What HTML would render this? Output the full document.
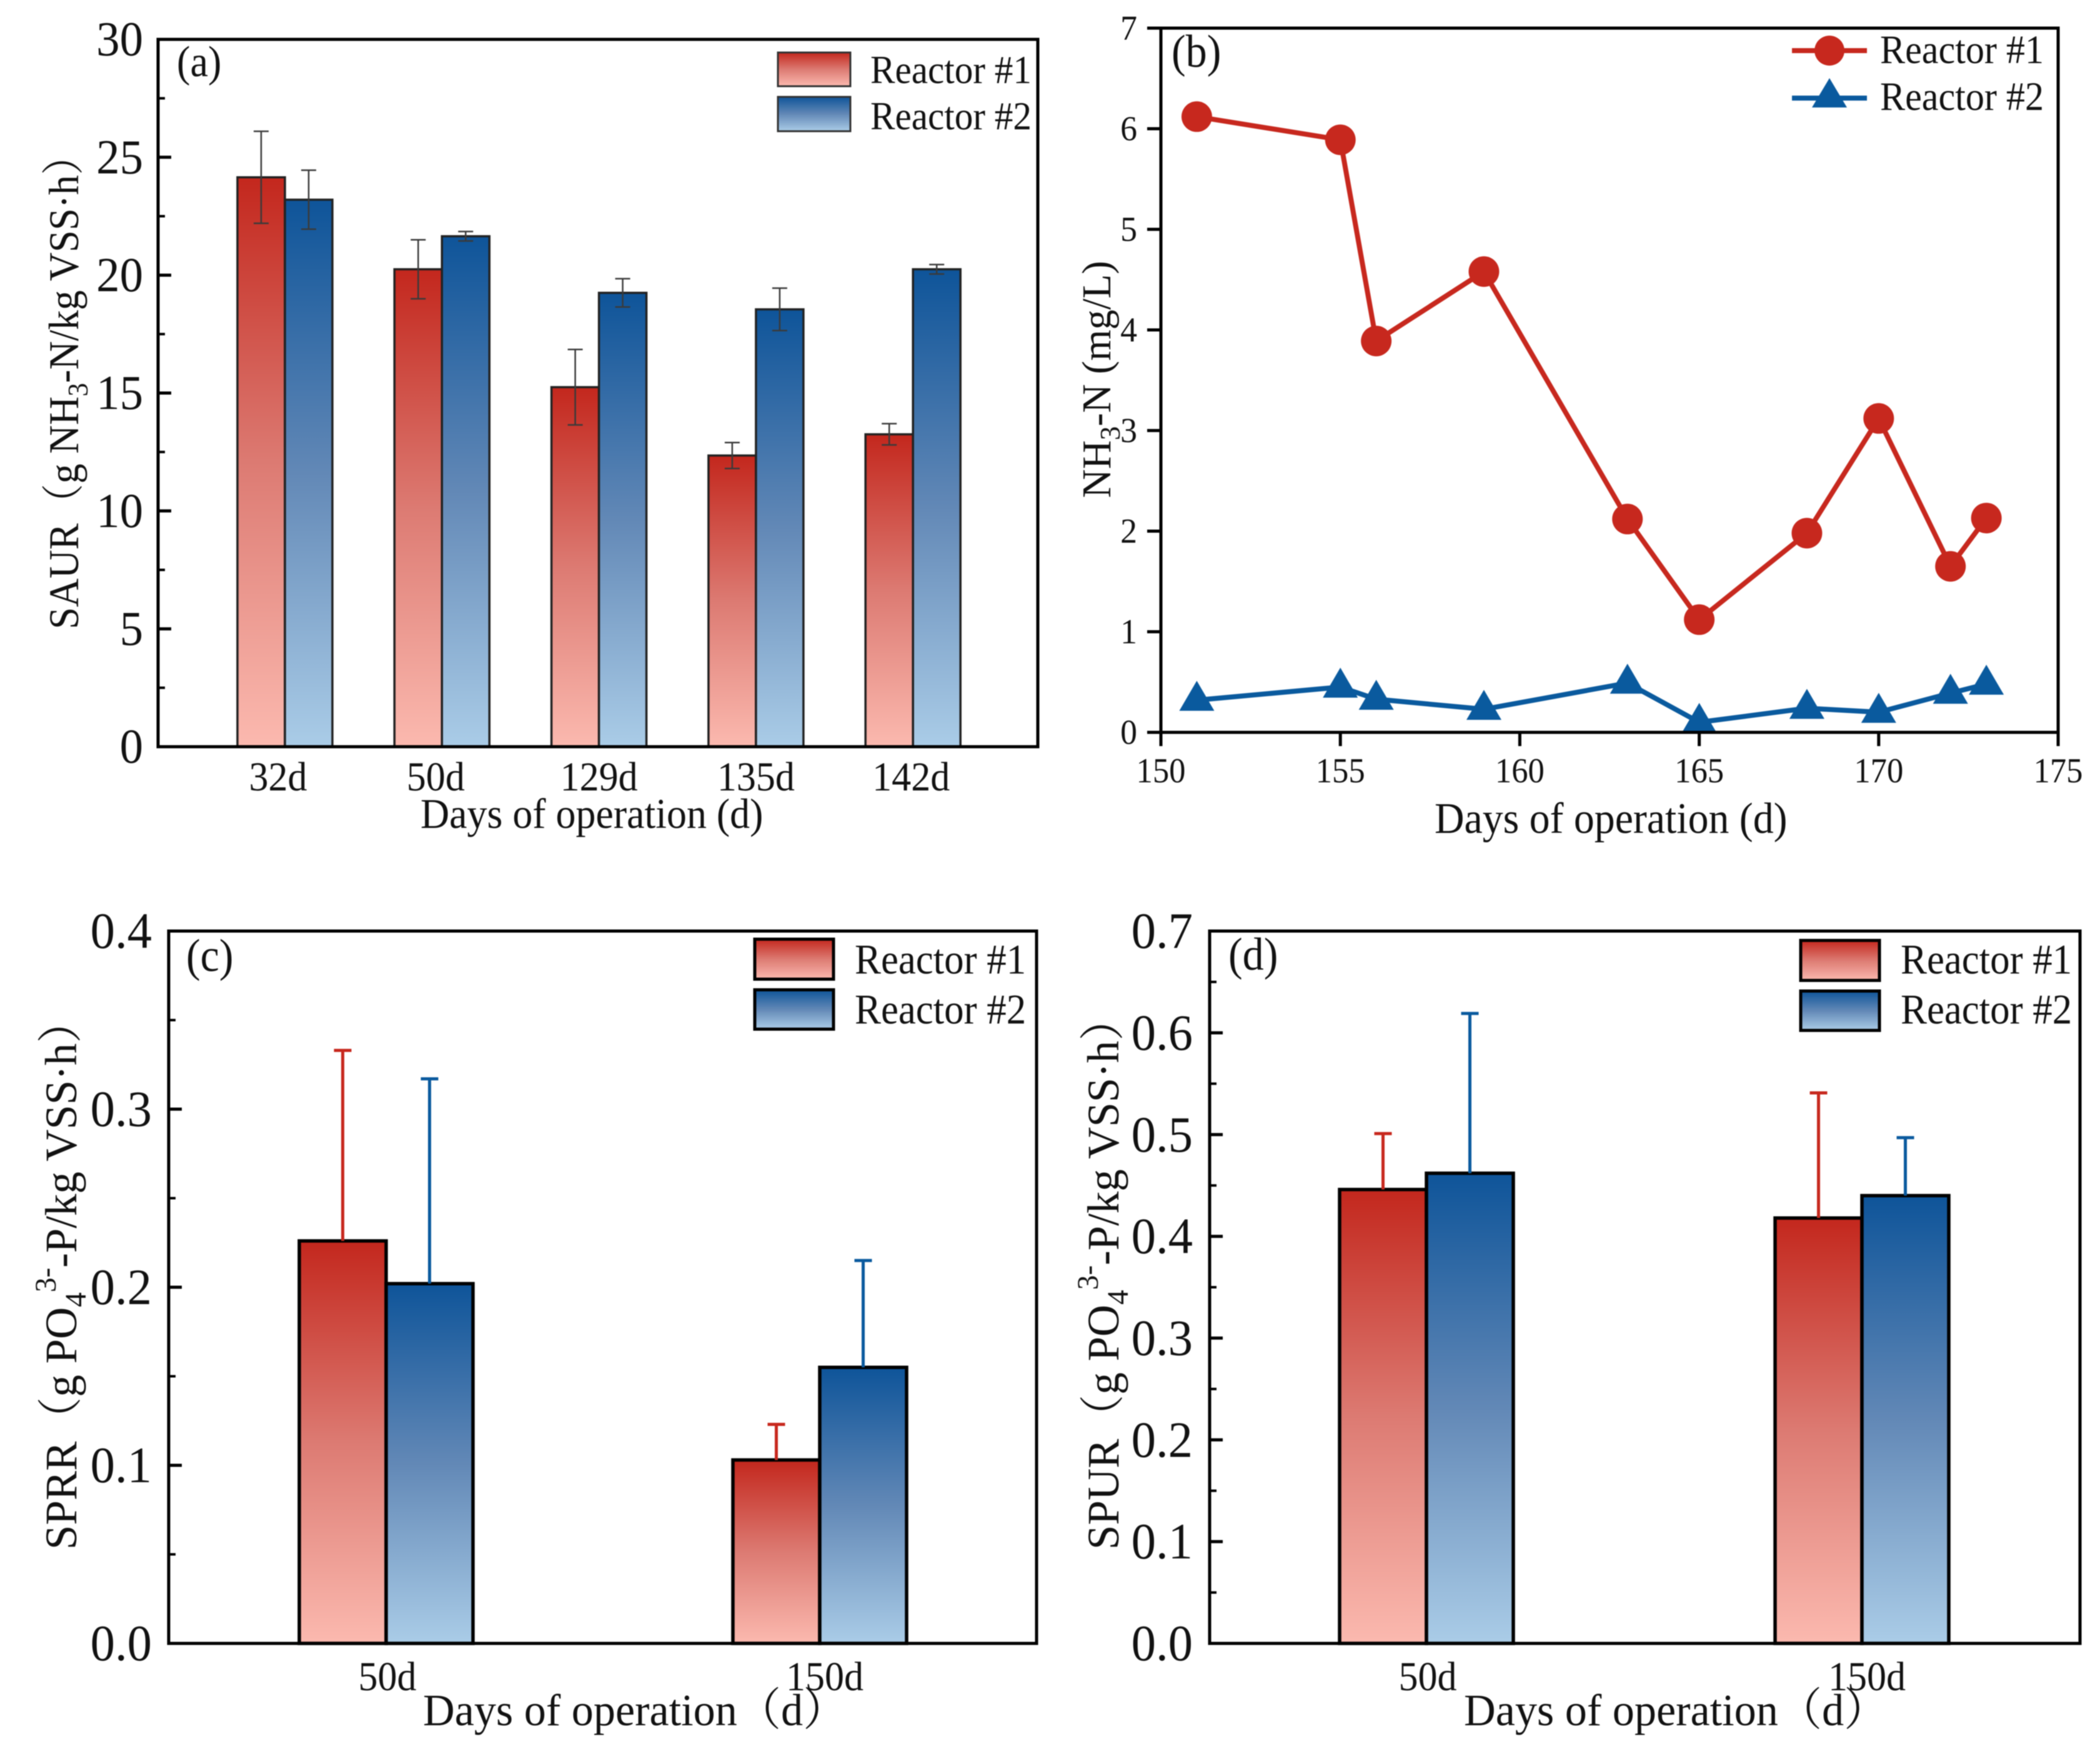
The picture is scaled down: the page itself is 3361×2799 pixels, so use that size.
<!DOCTYPE html>
<html lang="en">
<head>
<meta charset="utf-8">
<title>Reactor performance charts</title>
<style>
html,body{margin:0;padding:0;background:#fff;width:3361px;height:2799px;overflow:hidden}
svg{display:block;filter:blur(0.7px)}
text{font-family:"Liberation Serif","Noto Serif CJK SC",serif;fill:#111}
</style>
</head>
<body>
<svg id="figure" xmlns="http://www.w3.org/2000/svg" width="3361" height="2799" viewBox="0 0 3361 2799">
<defs>
<linearGradient id="redGrad" x1="0" y1="0" x2="0" y2="1"><stop offset="0" stop-color="#c3271d"/><stop offset=".5" stop-color="#dc7a72"/><stop offset="1" stop-color="#fbb9af"/></linearGradient>
<linearGradient id="blueGrad" x1="0" y1="0" x2="0" y2="1"><stop offset="0" stop-color="#0e5499"/><stop offset=".5" stop-color="#6288b6"/><stop offset="1" stop-color="#aacce7"/></linearGradient>
</defs>
<rect width="3361" height="2799" fill="#fff"/>
<g id="panelA"></g>
<g id="panelB"></g>
<g id="panelC"></g>
<g id="panelD"></g>

<!-- panel a static text -->
<text font-size="70" transform="translate(283 122) scale(.92 1)">(a)</text>
<text font-size="68" transform="translate(673 1325) scale(.94 1)">Days of operation (d)</text>
<text font-size="68" transform="translate(125 1007) rotate(-90) scale(.935 1)">SAUR（g NH<tspan font-size="46" dy="15">3</tspan><tspan dy="-15">-N/kg VSS·h）</tspan></text>
<g>
<rect x="1245" y="84" width="116" height="54" fill="url(#redGrad)" stroke="#333" stroke-width="3"/>
<rect x="1245" y="155" width="116" height="55" fill="url(#blueGrad)" stroke="#333" stroke-width="3"/>
<text font-size="64" transform="translate(1393 133) scale(.925 1)">Reactor #1</text>
<text font-size="64" transform="translate(1393 207) scale(.925 1)">Reactor #2</text>
</g>

<!-- panel b static text -->
<text font-size="74" transform="translate(1875 107) scale(.92 1)">(b)</text>
<text font-size="70" transform="translate(2296 1333) scale(.94 1)">Days of operation (d)</text>
<text font-size="66" transform="translate(1777 797) rotate(-90) scale(.97 1)">NH<tspan font-size="46" dy="15">3</tspan><tspan dy="-15">-N (mg/L)</tspan></text>
<g>
<line x1="2868" y1="81" x2="2988" y2="81" stroke="#c7281e" stroke-width="8"/>
<circle cx="2928" cy="81" r="24" fill="#c7281e"/>
<line x1="2868" y1="157" x2="2988" y2="157" stroke="#0a5a9e" stroke-width="8"/>
<polygon points="2928,125 2956,172 2900,172" fill="#0a5a9e"/>
<text font-size="65" transform="translate(3009 101) scale(.925 1)">Reactor #1</text>
<text font-size="65" transform="translate(3009 176) scale(.925 1)">Reactor #2</text>
</g>

<!-- panel c static text -->
<text font-size="74" transform="translate(298 1554) scale(.92 1)">(c)</text>
<text font-size="72" transform="translate(677 2761) scale(.975 1)">Days of operation（d）</text>
<text font-size="72" transform="translate(122 2480) rotate(-90) scale(.985 1)">SPRR（g PO<tspan font-size="48" dy="15">4</tspan><tspan font-size="48" dy="-48">3-</tspan><tspan dy="33">-P/kg VSS·h）</tspan></text>
<g>
<rect x="1208" y="1503" width="126" height="64" fill="url(#redGrad)" stroke="#000" stroke-width="5"/>
<rect x="1208" y="1584" width="126" height="63" fill="url(#blueGrad)" stroke="#000" stroke-width="5"/>
<text font-size="68" transform="translate(1368 1558) scale(.925 1)">Reactor #1</text>
<text font-size="68" transform="translate(1368 1638) scale(.925 1)">Reactor #2</text>
</g>

<!-- panel d static text -->
<text font-size="74" transform="translate(1966 1552) scale(.92 1)">(d)</text>
<text font-size="72" transform="translate(2343 2761) scale(.975 1)">Days of operation（d）</text>
<text font-size="72" transform="translate(1790 2480) rotate(-90) scale(.985 1)">SPUR（g PO<tspan font-size="48" dy="15">4</tspan><tspan font-size="48" dy="-48">3-</tspan><tspan dy="33">-P/kg VSS·h）</tspan></text>
<g>
<rect x="2882" y="1505" width="126" height="64" fill="url(#redGrad)" stroke="#000" stroke-width="5"/>
<rect x="2882" y="1586" width="126" height="63" fill="url(#blueGrad)" stroke="#000" stroke-width="5"/>
<text font-size="68" transform="translate(3042 1558) scale(.925 1)">Reactor #1</text>
<text font-size="68" transform="translate(3042 1638) scale(.925 1)">Reactor #2</text>
</g>
</svg>

<script>
// Panel (a) data
const aCategories = ['32d', '50d', '129d', '135d', '142d'];
const aReactor1 = [24.15, 20.25, 15.25, 12.35, 13.25];
const aReactor2 = [23.2, 21.65, 19.25, 18.55, 20.25];
const aError1 = [1.95, 1.25, 1.6, 0.55, 0.45];
const aError2 = [1.25, 0.2, 0.6, 0.9, 0.2];
const aYTicks = ['0', '5', '10', '15', '20', '25', '30'];

// Panel (b) data
const bDays = [151, 155, 156, 159, 163, 165, 168, 170, 172, 173];
const bReactor1 = [6.12, 5.89, 3.89, 4.58, 2.12, 1.12, 1.98, 3.12, 1.65, 2.13];
const bReactor2 = [0.32, 0.45, 0.33, 0.23, 0.49, 0.1, 0.24, 0.2, 0.39, 0.48];
const bXTicks = ['150', '155', '160', '165', '170', '175'];
const bYTicks = ['0', '1', '2', '3', '4', '5', '6', '7'];

// Panel (c) data
const cCategories = ['50d', '150d'];
const cReactor1 = [0.226, 0.103];
const cReactor2 = [0.202, 0.155];
const cError1 = [0.107, 0.02];
const cError2 = [0.115, 0.06];
const cYTicks = ['0.0', '0.1', '0.2', '0.3', '0.4'];

// Panel (d) data
const dCategories = ['50d', '150d'];
const dReactor1 = [0.446, 0.418];
const dReactor2 = [0.462, 0.44];
const dError1 = [0.055, 0.123];
const dError2 = [0.157, 0.057];
const dYTicks = ['0.0', '0.1', '0.2', '0.3', '0.4', '0.5', '0.6', '0.7'];

const NS = 'http://www.w3.org/2000/svg';
const RED = '#c7281e';
const BLUE = '#0a5a9e';

function svgEl(parent, tag, attrs, txt) {
  const n = document.createElementNS(NS, tag);
  for (const k in attrs) n.setAttribute(k, attrs[k]);
  if (txt !== undefined) n.textContent = txt;
  parent.appendChild(n);
  return n;
}

function drawFrame(g, box, sw) {
  const el = svgEl(g, 'rect', {x: box.l, y: box.t, width: box.r - box.l, height: box.b - box.t, fill: 'none', stroke: '#000', 'stroke-width': sw});
  
  
}

function drawYAxis(g, box, labels, yMax, o) {
  const yOf = v => box.b - (v / yMax) * (box.b - box.t);
  labels.forEach(lab => {
    const v = parseFloat(lab);
    const y = yOf(v);
    const tick = svgEl(g, 'line', {x1: box.l, x2: box.l + o.major, y1: y, y2: y, stroke: '#000', 'stroke-width': 5});
    
    
    const t = svgEl(g, 'text', {'font-size': o.size, 'text-anchor': 'end', transform: `translate(${o.labelX} ${y + o.size * 0.33}) scale(${o.sx} 1)`}, lab);
    
    
  });
  if (o.minorStep) {
    for (let v = o.minorStep; v < yMax; v += o.minorStep * 2) {
      const y = yOf(v);
      const minor = svgEl(g, 'line', {x1: box.l, x2: box.l + o.minor, y1: y, y2: y, stroke: '#000', 'stroke-width': 4});
      
      
    }
  }
  return yOf;
}

function drawBars(g, box, cats, s1, s2, e1, e2, o) {
  const yOf = v => box.b - (v / o.yMax) * (box.b - box.t);
  const xOf = i => o.firstX + i * o.spacing;
  const series = [
    {vals: s1, errs: e1, fill: 'url(#redGrad)', col: RED, dir: -1, key: 'reactor-1'},
    {vals: s2, errs: e2, fill: 'url(#blueGrad)', col: BLUE, dir: 0, key: 'reactor-2'}
  ];
  cats.forEach((c, i) => {
    series.forEach(s => {
      const x = s.dir < 0 ? xOf(i) - o.barW : xOf(i);
      const top = yOf(s.vals[i]);
      const bar = svgEl(g, 'rect', {x: x, y: top, width: o.barW, height: box.b - top, fill: s.fill, stroke: o.barStroke, 'stroke-width': o.barSW});
      
      
    });
    series.forEach(s => {
      const cx = (s.dir < 0 ? xOf(i) - o.barW : xOf(i)) + o.barW / 2;
      const v = s.vals[i], er = s.errs[i];
      const col = o.errColor || s.col;
      const low = o.symmetric ? yOf(v - er) : yOf(v);
      const hi = yOf(v + er);
      const stem = svgEl(g, 'line', {x1: cx, x2: cx, y1: low, y2: hi, stroke: col, 'stroke-width': o.errSW});
      
      
      const cap = svgEl(g, 'line', {x1: cx - o.capW / 2, x2: cx + o.capW / 2, y1: hi, y2: hi, stroke: col, 'stroke-width': o.errSW});
      
      
      if (o.symmetric) {
        const capLow = svgEl(g, 'line', {x1: cx - o.capW / 2, x2: cx + o.capW / 2, y1: low, y2: low, stroke: col, 'stroke-width': o.errSW});
        
        
      }
    });
    const label = svgEl(g, 'text', {'font-size': o.labelSize, 'text-anchor': 'middle', transform: `translate(${xOf(i) + o.labelDx[i]} ${o.labelY}) scale(${o.labelSx} 1)`}, c);
    
    
  });
}

// Panel a
const boxA = {l: 253, r: 1661, t: 63, b: 1195};
const gA = document.getElementById('panelA');
drawBars(gA, boxA, aCategories, aReactor1, aReactor2, aError1, aError2, {
  yMax: 30, firstX: 456, spacing: 251.3, barW: 76, barStroke: '#222', barSW: 3.5,
  errSW: 2.5, capW: 24, errColor: '#3a3a3a', symmetric: true,
  labelSize: 66, labelY: 1265, labelSx: .94, labelDx: [-11, -10, 0, 0, -3]
});
drawYAxis(gA, boxA, aYTicks, 30, {major: 21, minor: 11, minorStep: 2.5, size: 78, labelX: 229, sx: .96});
drawFrame(gA, boxA, 5);

// Panel b
const boxB = {l: 1858, r: 3294, t: 45, b: 1172};
const gB = document.getElementById('panelB');
const bXMin = 150, bXMax = 175, bYMax = 7;
const bx = d => boxB.l + (d - bXMin) / (bXMax - bXMin) * (boxB.r - boxB.l);
const by = v => boxB.b - v / bYMax * (boxB.b - boxB.t);
bXTicks.forEach(lab => {
  const x = bx(parseFloat(lab));
  const tick = svgEl(gB, 'line', {x1: x, x2: x, y1: boxB.b, y2: boxB.b + 22, stroke: '#000', 'stroke-width': 5});
  
  
  const t = svgEl(gB, 'text', {'font-size': 56, 'text-anchor': 'middle', transform: `translate(${x} 1252) scale(.94 1)`}, lab);
  
  
});
drawYAxis(gB, boxB, bYTicks, bYMax, {major: -22, size: 56, labelX: 1820, sx: .96});
const pathOf = vals => vals.map((v, i) => bx(bDays[i]).toFixed(1) + ',' + by(v).toFixed(1)).join(' ');
const lineR2 = svgEl(gB, 'polyline', {points: pathOf(bReactor2), fill: 'none', stroke: BLUE, 'stroke-width': 8, 'stroke-linejoin': 'round'});


const lineR1 = svgEl(gB, 'polyline', {points: pathOf(bReactor1), fill: 'none', stroke: RED, 'stroke-width': 8, 'stroke-linejoin': 'round'});


bDays.forEach((d, i) => {
  const x = bx(d);
  const c = svgEl(gB, 'circle', {cx: x, cy: by(bReactor1[i]), r: 24.5, fill: RED});
  
  
  const y = by(bReactor2[i]);
  const tri = svgEl(gB, 'polygon', {points: `${x},${y - 31} ${x + 28},${y + 17} ${x - 28},${y + 17}`, fill: BLUE});
  
  
});
drawFrame(gB, boxB, 5);

// Panel c
const boxC = {l: 270, r: 1659, t: 1490, b: 2630};
const gC = document.getElementById('panelC');
drawBars(gC, boxC, cCategories, cReactor1, cReactor2, cError1, cError2, {
  yMax: 0.4, firstX: 618, spacing: 694, barW: 139, barStroke: '#000', barSW: 5.5,
  errSW: 5, capW: 28, symmetric: false,
  labelSize: 66, labelY: 2705, labelSx: .94, labelDx: [2, 8]
});
drawYAxis(gC, boxC, cYTicks, 0.4, {major: 21, minor: 11, minorStep: 0.05, size: 82, labelX: 243, sx: .96});
drawFrame(gC, boxC, 5);

// Panel d
const boxD = {l: 1936, r: 3329, t: 1490, b: 2630};
const gD = document.getElementById('panelD');
drawBars(gD, boxD, dCategories, dReactor1, dReactor2, dError1, dError2, {
  yMax: 0.7, firstX: 2283, spacing: 697, barW: 139, barStroke: '#000', barSW: 5.5,
  errSW: 5, capW: 28, symmetric: false,
  labelSize: 66, labelY: 2705, labelSx: .94, labelDx: [2, 8]
});
drawYAxis(gD, boxD, dYTicks, 0.7, {major: 21, minor: 11, minorStep: 0.05, size: 82, labelX: 1909, sx: .96});
drawFrame(gD, boxD, 5);
</script>
</body>
</html>
